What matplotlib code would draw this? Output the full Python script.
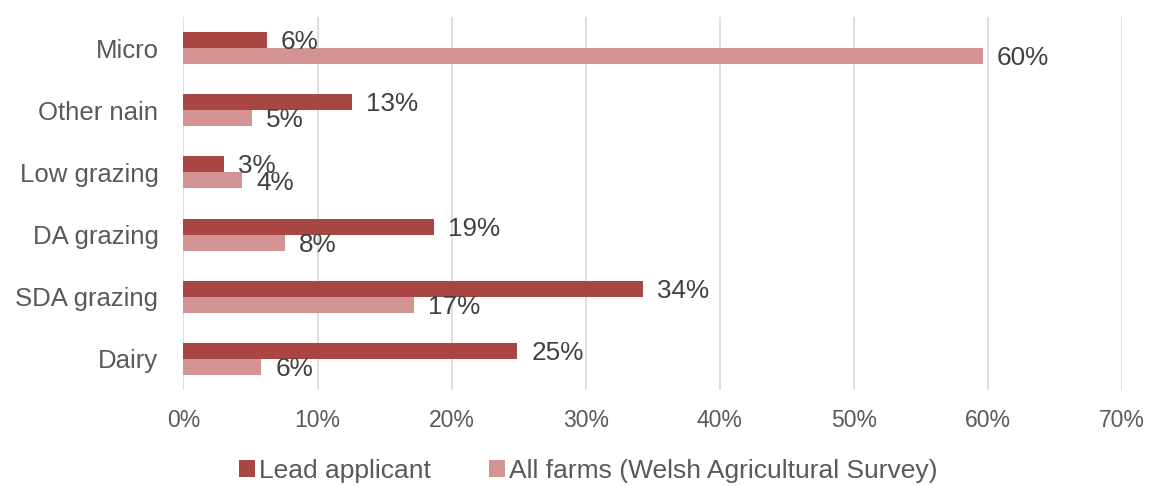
import matplotlib.pyplot as plt
import numpy as np

plt.rcParams['font.family'] = ['Liberation Sans', 'DejaVu Sans']

categories = ["Micro", "Other nain", "Low grazing", "DA grazing", "SDA grazing", "Dairy"]
lead_applicant = [6.2, 12.6, 3.0, 18.7, 34.3, 24.9]
all_farms = [59.6, 5.1, 4.4, 7.6, 17.2, 5.8]
series_names = ["Lead applicant", "All farms (Welsh Agricultural Survey)"]
xticks = [0, 10, 20, 30, 40, 50, 60, 70]

dark = "#A94543"
light = "#D39392"

fig = plt.figure(figsize=(11.49, 4.86), dpi=100)
ax = fig.add_axes([0.1597, 0.1975, 0.8169, 0.7675])

y = np.arange(len(categories))
h = 0.258
b1 = ax.barh(y - h / 2, lead_applicant, height=h, color=dark, label=series_names[0], zorder=3)
b2 = ax.barh(y + h / 2, all_farms, height=h, color=light, label=series_names[1], zorder=3)

# value labels just past the end of each bar
for bars, vals in ((b1, lead_applicant), (b2, all_farms)):
    for bar, v in zip(bars, vals):
        ax.annotate(f"{v:.0f}%", (v, bar.get_y() + bar.get_height() / 2),
                    xytext=(10, -1.5), textcoords="offset points",
                    va="center", ha="left", fontsize=18.8, color="#404040", zorder=4)

ax.set_xlim(0, 70)
ax.set_ylim(len(categories) - 0.5, -0.5)
ax.set_xticks(xticks)
ax.set_xticklabels([f"{t}%" for t in xticks])
ax.set_yticks(y)
ax.set_yticklabels(categories)
ax.tick_params(axis='x', length=0, pad=14, labelsize=16.5, labelcolor="#595959")
ax.tick_params(axis='y', length=0, pad=18, labelsize=18.5, labelcolor="#595959")
ax.grid(axis='x', color="#D9D9D9", linewidth=1.2, zorder=0)
for s in ax.spines.values():
    s.set_visible(False)

fig.legend(handles=[b1, b2], loc="center", bbox_to_anchor=(0.512, 0.031), ncol=2,
           frameon=False, fontsize=19, labelcolor="#595959",
           handlelength=0.6, handleheight=0.6, handletextpad=0.15,
           columnspacing=2.2, borderpad=0)

plt.savefig("out.png", dpi=100)
plt.close('all')
